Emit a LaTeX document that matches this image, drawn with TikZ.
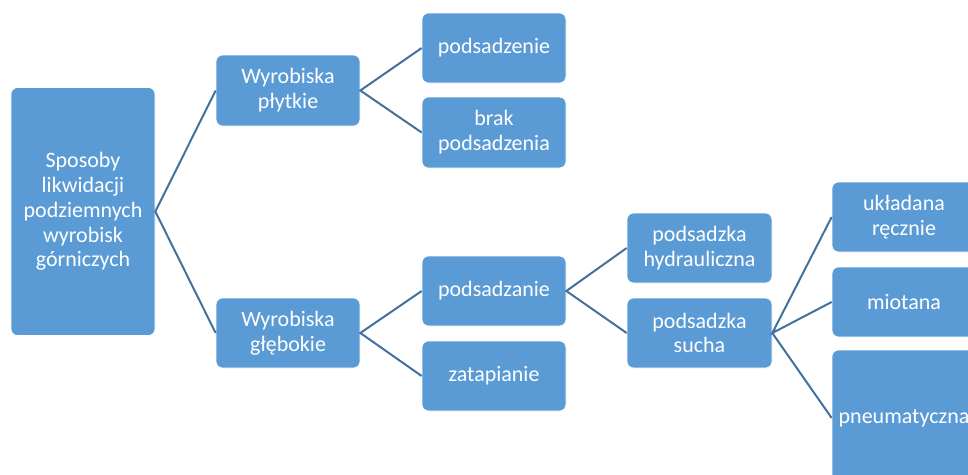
\documentclass[tikz,border=0pt]{standalone}
\usepackage{fontspec}
\setmainfont{Carlito}
\definecolor{boxfill}{HTML}{5B9BD5}
\definecolor{linkcol}{HTML}{41719C}
\begin{document}
\begin{tikzpicture}[x=0.75pt,y=-0.75pt,
  box/.style={draw=white, line width=0.5pt, fill=boxfill, rounded corners=5pt,
    text=white, align=center, inner sep=1pt, minimum width=108pt, minimum height=52.5pt,
    font=\fontsize{16.5}{18.6}\selectfont},
  link/.style={draw=linkcol, line width=1.5pt}]
\useasboundingbox (0,0) rectangle (968,475);
\clip (0,0) rectangle (968,475);
\node[box, minimum height=186pt] (root) at (83,211.5) {Sposoby\\likwidacji\\podziemnych\\wyrobisk\\górniczych};
\node[box, minimum height=53.25pt] (p1) at (288,90.5) {Wyrobiska\\płytkie};
\node[box] (p2) at (288,333) {Wyrobiska\\głębokie};
\node[box] (a1) at (494,48) {podsadzenie};
\node[box, minimum height=53.25pt] (a2) at (494,132.5) {brak\\podsadzenia};
\node[box] (b1) at (494,291) {podsadzanie};
\node[box] (b2) at (494,376) {zatapianie};
\node[box, minimum width=108.75pt] (c1) at (699.5,248) {podsadzka\\hydrauliczna};
\node[box, minimum width=108.75pt] (c2) at (699.5,333) {podsadzka\\sucha};
\node[box] (d1) at (904,217) {układana\\ręcznie};
\node[box] (d2) at (904,302) {miotana};
\node[box, minimum height=102pt] (d3) at (904,418) {pneumatyczna};
\draw[link] (p1.west) -- (root.east) -- (p2.west);
\draw[link] (a1.west) -- (p1.east) -- (a2.west);
\draw[link] (b1.west) -- (p2.east) -- (b2.west);
\draw[link] (c1.west) -- (b1.east) -- (c2.west);
\draw[link] (d1.west) -- (c2.east) -- (d2.west);
\draw[link] (c2.east) -- (d3.west);
\end{tikzpicture}
\end{document}
